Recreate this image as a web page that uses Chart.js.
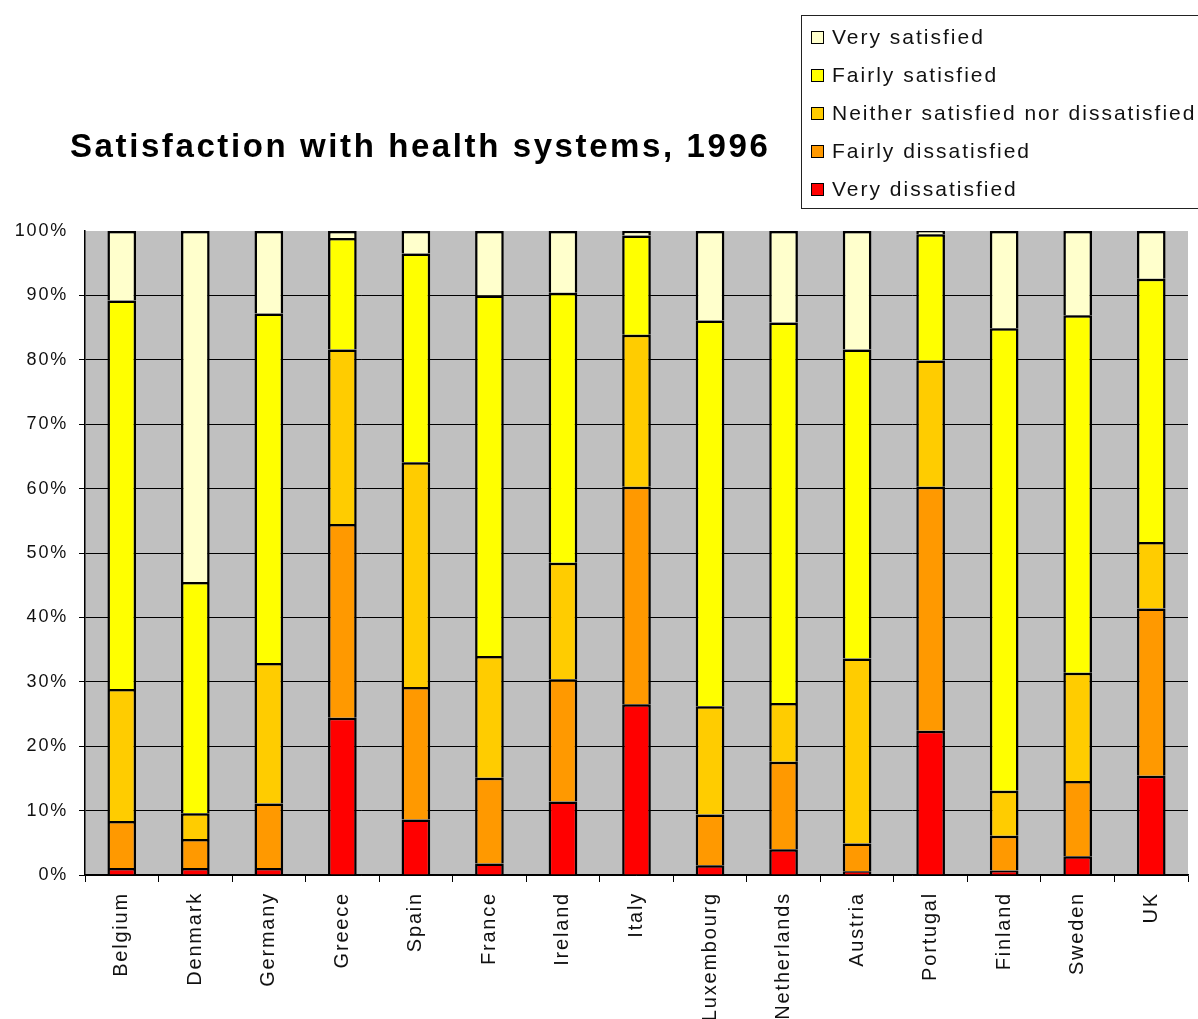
<!DOCTYPE html>
<html>
<head>
<meta charset="utf-8">
<title>Satisfaction with health systems, 1996</title>
<script src="https://cdn.jsdelivr.net/npm/chart.js@4.4.1/dist/chart.umd.min.js"></script>
<style>
  html, body { margin: 0; padding: 0; background: #ffffff; }
  #wrap { width: 1198px; height: 1019px; position: relative; }
</style>
</head>
<body>
<div id="wrap"><canvas id="chart" width="1198" height="1019"></canvas></div>
<script>
// Survey shares (%) per country, 1996
const countries = ['Belgium', 'Denmark', 'Germany', 'Greece', 'Spain', 'France', 'Ireland', 'Italy',
  'Luxembourg', 'Netherlands', 'Austria', 'Portugal', 'Finland', 'Sweden', 'UK'];

const veryDissatisfied   = [1.1, 1.1, 1.1, 24.4, 8.6, 1.8, 11.4, 26.5, 1.5, 4.0, 0.6, 22.4, 0.7, 2.9, 15.4];
const fairlyDissatisfied = [7.3, 4.5, 10.0, 30.1, 20.6, 13.3, 19.0, 33.8, 7.9, 13.6, 4.3, 37.9, 5.4, 11.7, 26.0];
const neither            = [20.5, 4.0, 21.8, 27.1, 34.9, 18.9, 18.1, 23.6, 16.8, 9.1, 28.7, 19.6, 7.0, 16.8, 10.3];
const fairlySatisfied    = [60.3, 35.9, 54.3, 17.3, 32.4, 56.0, 41.9, 15.4, 59.9, 59.1, 48.0, 19.6, 71.8, 55.5, 40.9];
const verySatisfied      = [10.8, 54.5, 12.8, 1.1, 3.5, 10.0, 9.6, 0.7, 13.9, 14.2, 18.4, 0.5, 15.1, 13.1, 7.4];

const yTicks = [0, 10, 20, 30, 40, 50, 60, 70, 80, 90, 100];

const FONT = "'Liberation Sans', Arial, sans-serif";

const series = [
  { label: 'Very dissatisfied', data: veryDissatisfied, color: '#FF0000' },
  { label: 'Fairly dissatisfied', data: fairlyDissatisfied, color: '#FF9900' },
  { label: 'Neither satisfied nor dissatisfied', data: neither, color: '#FFCC00' },
  { label: 'Fairly satisfied', data: fairlySatisfied, color: '#FFFF00' },
  { label: 'Very satisfied', data: verySatisfied, color: '#FFFFCC' }
];

// Grey plot background and wide-spaced axis lettering
const backdrop = {
  id: 'backdrop',
  beforeDraw(chart) {
    const { ctx, chartArea: a } = chart;
    ctx.save();
    ctx.fillStyle = '#ffffff';
    ctx.fillRect(0, 0, chart.width, chart.height);
    ctx.fillStyle = '#C0C0C0';
    ctx.fillRect(a.left, a.top, a.right - a.left, a.bottom - a.top);
    ctx.restore();
    ctx.letterSpacing = '1.8px';
  },
  afterDatasetsDraw(chart) {
    chart.ctx.letterSpacing = '0px';
  }
};

// Title and boxed legend (top-down from "Very satisfied")
const annotations = {
  id: 'annotations',
  afterDraw(chart) {
    const ctx = chart.ctx;
    ctx.save();
    ctx.letterSpacing = '2.6px';
    ctx.fillStyle = '#000000';
    ctx.font = "bold 33px " + FONT;
    ctx.textAlign = 'left';
    ctx.textBaseline = 'alphabetic';
    ctx.fillText('Satisfaction with health systems, 1996', 70, 157);

    ctx.letterSpacing = '0px';
    ctx.fillStyle = '#ffffff';
    ctx.fillRect(801, 15, 420, 193);
    ctx.strokeStyle = '#222222';
    ctx.lineWidth = 1;
    ctx.strokeRect(801.5, 15.5, 420, 193);

    ctx.letterSpacing = '2px';
    ctx.font = "21px " + FONT;
    ctx.textBaseline = 'middle';
    const items = chart.data.datasets.slice().reverse();
    items.forEach((ds, i) => {
      const cy = 37 + i * 38;
      ctx.fillStyle = ds.backgroundColor;
      ctx.fillRect(811, cy - 6, 13, 13);
      ctx.strokeStyle = '#000000';
      ctx.strokeRect(811.5, cy - 5.5, 12, 12);
      ctx.fillStyle = '#111111';
      ctx.fillText(ds.label, 832, cy + 1);
    });
    ctx.restore();
  }
};

new Chart(document.getElementById('chart'), {
  type: 'bar',
  data: {
    labels: countries,
    datasets: series.map(s => ({
      label: s.label,
      data: s.data,
      backgroundColor: s.color,
      borderColor: '#000000',
      borderWidth: 2.5,
      categoryPercentage: 1.0,
      barPercentage: 0.39
    }))
  },
  options: {
    responsive: false,
    animation: false,
    events: [],
    layout: { padding: { top: 231, right: 10, left: 0, bottom: 0 } },
    plugins: { legend: { display: false }, title: { display: false }, tooltip: { enabled: false } },
    scales: {
      x: {
        stacked: true,
        afterFit(axis) { axis.height = 1019 - 875; },
        grid: { offset: true, drawOnChartArea: false, drawTicks: true, tickLength: 7, color: '#000000', lineWidth: 1 },
        border: { color: '#000000', width: 1.5 },
        ticks: {
          minRotation: 90, maxRotation: 90, autoSkip: false, padding: 10,
          color: '#111111', font: { family: FONT, size: 20 }
        }
      },
      y: {
        stacked: true,
        min: 0, max: 100,
        afterFit(axis) { axis.width = 85; },
        afterBuildTicks(axis) { axis.ticks = yTicks.map(v => ({ value: v })); },
        grid: {
          color: c => (c.tick && c.tick.value === 100) ? 'rgba(0,0,0,0)' : '#000000',
          lineWidth: 1, drawTicks: true, tickLength: 6
        },
        border: { color: '#000000', width: 1.5 },
        ticks: {
          padding: 11, color: '#111111', font: { family: FONT, size: 18 },
          callback: v => v + '%'
        }
      }
    }
  },
  plugins: [backdrop, annotations]
});
</script>
</body>
</html>
